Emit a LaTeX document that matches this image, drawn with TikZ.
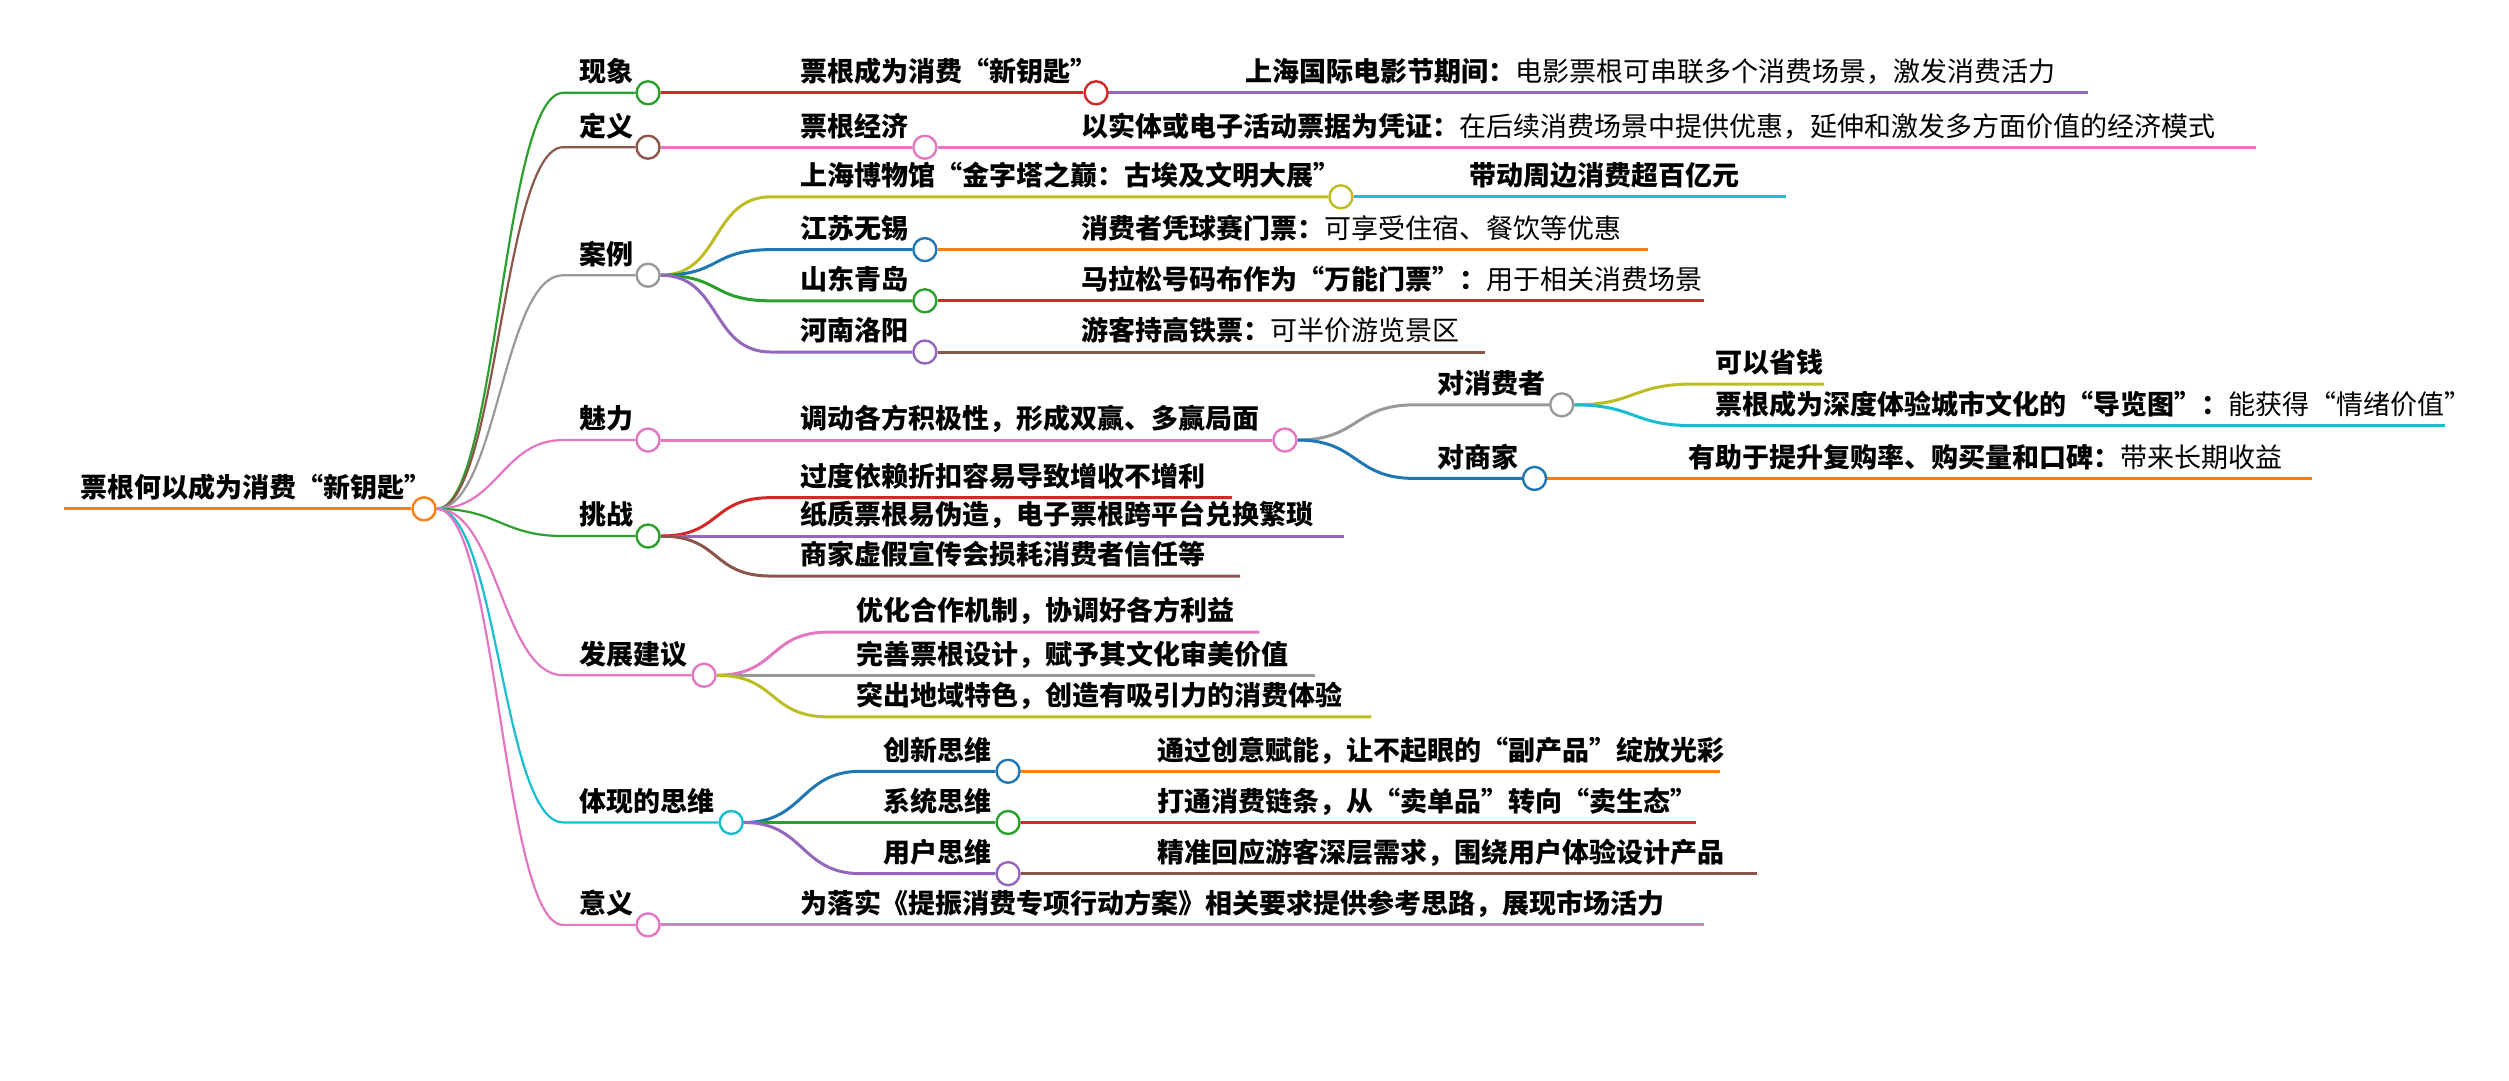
\documentclass[tikz,border=0pt]{standalone}
\usepackage{fontspec}
\setmainfont{Noto Sans CJK SC}
\pgfdeclarelayer{bg}\pgfsetlayers{bg,main}
\definecolor{cb}{HTML}{1F77B4}\definecolor{co}{HTML}{FF7F0E}\definecolor{cg}{HTML}{2CA02C}
\definecolor{cr}{HTML}{D62728}\definecolor{cpu}{HTML}{9467BD}\definecolor{cbr}{HTML}{8C564B}
\definecolor{cpk}{HTML}{E377C2}\definecolor{cgy}{HTML}{999999}\definecolor{col}{HTML}{BCBD22}
\definecolor{ccy}{HTML}{17BECF}
\tikzset{dot/.style={circle,draw=#1,fill=white,line width=2.4pt,minimum size=23pt,inner sep=0pt},
 txt/.style={anchor=base west,inner sep=0pt,font=\fontsize{27}{30}\selectfont},
 ln/.style={draw=#1,line width=3pt},
 ln1/.style={draw=#1,line width=2.2pt}}
\newcommand\conn[5][ln]{\begin{pgfonlayer}{bg}\draw[#1=#2] (#3.east) .. controls +(38,0) and +(-38,0) .. (#4) -- #5;\end{pgfonlayer}}
\begin{document}
\begin{tikzpicture}[x=1.6pt,y=-1.6pt]
\useasboundingbox (0,0) rectangle (1568,675);
% root
\node[dot=co] (r) at (265,318) {};
\coordinate (r0) at (40,318);
\node[txt] (rt) at (50,311) {\bfseries 票根何以成为消费“新钥匙”};
\begin{pgfonlayer}{bg}\draw[ln=co] (r0) -- (r.west);\end{pgfonlayer}
% level 1
\node[dot=cg] (a) at (405,58) {};\node[txt] at (362,51) {\bfseries 现象};
\node[dot=cbr] (b) at (405,92) {};\node[txt] at (362,85) {\bfseries 定义};
\node[dot=cgy] (c) at (405,172) {};\node[txt] at (362,165) {\bfseries 案例};
\node[dot=cpk] (d) at (405,275) {};\node[txt] at (362,268) {\bfseries 魅力};
\node[dot=cg] (e) at (405,335) {};\node[txt] at (362,328) {\bfseries 挑战};
\node[dot=cpk] (f) at (440,422) {};\node[txt] at (362,415) {\bfseries 发展建议};
\node[dot=ccy] (g) at (457,514) {};\node[txt] at (362,507) {\bfseries 体现的思维};
\node[dot=cpk] (h) at (405,578) {};\node[txt] at (362,571) {\bfseries 意义};
\conn[ln1]{cg}{r}{352,58}{(a.west)}
\conn[ln1]{cbr}{r}{352,92}{(b.west)}
\conn[ln1]{cgy}{r}{352,172}{(c.west)}
\conn[ln1]{cpk}{r}{352,275}{(d.west)}
\conn[ln1]{cg}{r}{352,335}{(e.west)}
\conn[ln1]{cpk}{r}{352,422}{(f.west)}
\conn[ln1]{ccy}{r}{352,514}{(g.west)}
\conn[ln1]{cpk}{r}{352,578}{(h.west)}
% 现象
\node[dot=cr] (a1) at (685,58) {};\node[txt] at (500,51) {\bfseries 票根成为消费“新钥匙”};
\conn{cr}{a}{480,58}{(a1.west)}
\node[txt] at (778,51) {\bfseries 上海国际电影节期间：\mdseries 电影票根可串联多个消费场景，激发消费活力};
\conn{cpu}{a1}{700,58}{(1305,58)}
% 定义
\node[dot=cpk] (b1) at (578,92) {};\node[txt] at (500,85) {\bfseries 票根经济};
\conn{cpk}{b}{480,92}{(b1.west)}
\node[txt] at (676,85) {\bfseries 以实体或电子活动票据为凭证：\mdseries 在后续消费场景中提供优惠，延伸和激发多方面价值的经济模式};
\conn{cpk}{b1}{600,92}{(1410,92)}
% 案例
\node[dot=col] (c1) at (838,123) {};\node[txt] at (500,116) {\bfseries 上海博物馆“金字塔之巅：古埃及文明大展”};
\conn{col}{c}{482,123}{(c1.west)}
\node[txt] at (918,116) {\bfseries 带动周边消费超百亿元};
\conn{ccy}{c1}{860,123}{(1116,123)}
\node[dot=cb] (c2) at (578,156) {};\node[txt] at (500,149) {\bfseries 江苏无锡};
\conn{cb}{c}{482,156}{(c2.west)}
\node[txt] at (676,149) {\bfseries 消费者凭球赛门票：\mdseries 可享受住宿、餐饮等优惠};
\conn{co}{c2}{600,156}{(1030,156)}
\node[dot=cg] (c3) at (578,188) {};\node[txt] at (500,181) {\bfseries 山东青岛};
\conn{cg}{c}{482,188}{(c3.west)}
\node[txt] at (676,181) {\bfseries 马拉松号码布作为“万能门票”：\mdseries 用于相关消费场景};
\conn{cr}{c3}{600,188}{(1065,188)}
\node[dot=cpu] (c4) at (578,220) {};\node[txt] at (500,213) {\bfseries 河南洛阳};
\conn{cpu}{c}{482,220}{(c4.west)}
\node[txt] at (676,213) {\bfseries 游客持高铁票：\mdseries 可半价游览景区};
\conn{cbr}{c4}{600,220}{(928,220)}
% 魅力
\node[dot=cpk] (d1) at (803,275) {};\node[txt] at (500,268) {\bfseries 调动各方积极性，形成双赢、多赢局面};
\conn{cpk}{d}{480,275}{(d1.west)}
\node[dot=cgy] (d2) at (976,253) {};\node[txt] at (898,246) {\bfseries 对消费者};
\conn{cgy}{d1}{884,253}{(d2.west)}
\node[dot=cb] (d3) at (959,299) {};\node[txt] at (898,292) {\bfseries 对商家};
\conn{cb}{d1}{884,299}{(d3.west)}
\node[txt] at (1072,233) {\bfseries 可以省钱};
\conn{col}{d2}{1058,240}{(1140,240)}
\node[txt] at (1072,259) {\bfseries 票根成为深度体验城市文化的“导览图”：\mdseries 能获得“情绪价值”};
\conn{ccy}{d2}{1058,266}{(1528,266)}
\node[txt] at (1055,292) {\bfseries 有助于提升复购率、购买量和口碑：\mdseries 带来长期收益};
\conn{co}{d3}{990,299}{(1445,299)}
% 挑战
\node[txt] at (500,304) {\bfseries 过度依赖折扣容易导致增收不增利};
\conn{cr}{e}{482,311}{(770,311)}
\node[txt] at (500,328) {\bfseries 纸质票根易伪造，电子票根跨平台兑换繁琐};
\conn{cpu}{e}{482,335}{(840,335)}
\node[txt] at (500,353) {\bfseries 商家虚假宣传会损耗消费者信任等};
\conn{cbr}{e}{482,360}{(775,360)}
% 发展建议
\node[txt] at (535,388) {\bfseries 优化合作机制，协调好各方利益};
\conn{cpk}{f}{518,395}{(787,395)}
\node[txt] at (535,415) {\bfseries 完善票根设计，赋予其文化审美价值};
\conn{cgy}{f}{518,422}{(822,422)}
\node[txt] at (535,441) {\bfseries 突出地域特色，创造有吸引力的消费体验};
\conn{col}{f}{518,448}{(857,448)}
% 体现的思维
\node[dot=cb] (g1) at (630,482) {};\node[txt] at (552,475) {\bfseries 创新思维};
\conn{cb}{g}{538,482}{(g1.west)}
\node[dot=cg] (g2) at (630,514) {};\node[txt] at (552,507) {\bfseries 系统思维};
\conn{cg}{g}{538,514}{(g2.west)}
\node[dot=cpu] (g3) at (630,546) {};\node[txt] at (552,539) {\bfseries 用户思维};
\conn{cpu}{g}{538,546}{(g3.west)}
\node[txt] at (723,475) {\bfseries 通过创意赋能，让不起眼的“副产品”绽放光彩};
\conn{co}{g1}{660,482}{(1075,482)}
\node[txt] at (723,507) {\bfseries 打通消费链条，从“卖单品”转向“卖生态”};
\conn{cr}{g2}{660,514}{(1060,514)}
\node[txt] at (723,539) {\bfseries 精准回应游客深层需求，围绕用户体验设计产品};
\conn{cbr}{g3}{660,546}{(1098,546)}
% 意义
\node[txt] at (500,571) {\bfseries 为落实《提振消费专项行动方案》相关要求提供参考思路，展现市场活力};
\conn{cpk}{h}{482,578}{(1065,578)}
\end{tikzpicture}
\end{document}
